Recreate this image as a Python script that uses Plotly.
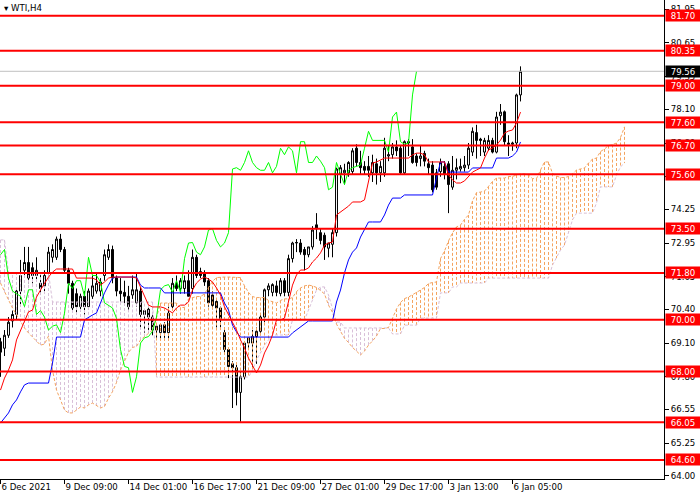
import plotly.graph_objects as go

# WTI H4 candles, one entry per bar (bar 0 = 6 Dec 2021 at the left edge)
bar_open = [69.15, 68.9, 69.4, 69.95, 70.2, 71.1, 71.9, 72.2, 72.0, 71.7,
            71.4, 71.3, 71.8, 72.4, 72.4, 73.1, 72.7, 71.9, 71.4, 71.0,
            70.5, 70.9, 70.5, 70.9, 71.1, 71.1, 71.7, 72.4, 72.7, 71.6,
            71.1, 71.05, 70.9, 70.95, 70.65, 71.1, 70.2, 70.4, 70.1, 69.6,
            69.5, 69.8, 69.5, 70.5, 71.4, 71.2, 71.2, 71.5, 71.2, 72.4,
            71.85, 71.8, 71.5, 70.95, 70.7, 70.45, 69.5, 68.85, 68.3, 68.15,
            67.2, 67.8, 69.1, 69.1, 69.35, 69.55, 70.1, 71.15, 71.05, 71.3,
            71.0, 71.5, 71.05, 72.35, 72.95, 72.95, 72.7, 72.5, 72.8, 73.65,
            73.35, 73.25, 72.75, 72.9, 73.35, 75.6, 75.65, 75.65, 75.7, 76.6,
            76.05, 75.9, 75.9, 75.65, 76.0, 75.65, 75.65, 76.3, 76.35, 76.65,
            76.6, 75.65, 76.8, 76.65, 76.3, 76.2, 76.4, 76.0, 75.95, 75.65,
            75.7, 75.9, 76.0, 75.1, 75.75, 75.8, 75.85, 75.95, 76.45, 77.2,
            76.95, 76.45, 76.6, 76.9, 76.45, 77.85, 78.0, 76.8, 76.75, 76.8,
            78.65]
bar_high = [69.3, 69.6, 70.1, 70.35, 71.2, 72.3, 72.8, 72.8, 72.2, 72.4,
            71.8, 71.9, 72.8, 72.9, 73.2, 73.3, 72.8, 72.0, 71.5, 71.2,
            71.0, 71.1, 71.2, 71.7, 71.8, 71.6, 72.7, 72.9, 72.85, 71.7,
            71.6, 71.5, 71.3, 71.7, 71.8, 71.25, 70.4, 70.5, 70.2, 69.75,
            69.8, 69.9, 70.5, 71.6, 71.7, 71.6, 71.7, 71.9, 72.7, 72.5,
            72.0, 71.9, 71.6, 71.1, 70.8, 70.5, 69.7, 68.9, 68.4, 68.3,
            68.0, 69.1, 69.3, 69.6, 69.7, 70.2, 71.2, 71.4, 71.4, 71.5,
            71.6, 71.6, 72.5, 73.0, 73.1, 73.1, 72.8, 72.8, 73.6, 74.1,
            73.5, 73.35, 72.95, 73.5, 75.85, 75.95, 76.0, 76.1, 76.6, 76.75,
            76.5, 76.1, 76.3, 76.35, 76.2, 76.1, 77.0, 76.7, 76.8, 76.9,
            76.7, 76.9, 76.95, 76.95, 76.4, 76.7, 76.5, 76.2, 76.1, 75.8,
            76.2, 76.1, 76.1, 76.3, 76.2, 76.2, 76.3, 76.8, 77.4, 77.5,
            77.0, 77.0, 77.1, 77.0, 78.0, 78.3, 78.05, 77.1, 76.85, 78.7,
            79.75]
bar_low = [67.8, 68.6, 69.3, 69.7, 70.0, 70.6, 71.7, 71.4, 71.4, 71.5,
           71.0, 71.1, 71.7, 72.2, 72.3, 72.6, 71.8, 71.0, 70.3, 70.2,
           70.3, 70.2, 70.4, 70.8, 71.0, 70.9, 71.5, 72.3, 71.4, 70.9,
           70.7, 70.6, 70.3, 70.8, 70.5, 69.7, 69.5, 69.5, 69.4, 69.3,
           69.2, 69.3, 69.2, 70.4, 71.1, 71.0, 71.0, 70.9, 71.0, 71.6,
           71.6, 71.3, 70.5, 70.4, 69.7, 69.6, 68.7, 67.75, 66.6, 66.7,
           66.07, 67.7, 68.9, 68.1, 68.3, 69.4, 69.9, 70.9, 70.9, 70.9,
           70.9, 70.9, 70.9, 72.2, 72.6, 72.5, 71.9, 72.4, 72.7, 73.1,
           72.9, 72.3, 72.4, 72.4, 73.2, 75.25, 75.2, 75.5, 75.6, 75.9,
           75.6, 75.6, 75.5, 75.3, 75.2, 75.3, 75.5, 76.1, 76.2, 76.3,
           75.6, 75.6, 76.3, 76.0, 75.9, 75.9, 75.9, 75.6, 74.9, 75.0,
           75.5, 75.4, 74.1, 75.0, 75.4, 75.7, 75.7, 75.8, 76.3, 76.2,
           76.3, 76.3, 76.5, 76.4, 76.4, 77.5, 76.7, 76.3, 76.5, 76.6,
           78.4]
bar_close = [68.75, 69.4, 69.9, 70.2, 71.1, 71.7, 72.2, 71.6, 71.7, 71.9,
             71.2, 71.7, 72.6, 72.7, 73.1, 72.7, 71.9, 71.4, 70.45, 70.5,
             70.9, 70.5, 71.1, 71.3, 71.4, 71.45, 72.5, 72.7, 71.6, 71.1,
             71.0, 70.9, 70.5, 71.15, 71.15, 70.2, 70.35, 70.1, 69.6, 69.75,
             69.8, 69.5, 70.25, 71.4, 71.2, 71.5, 71.5, 70.9, 72.4, 71.7,
             71.7, 71.45, 70.65, 70.55, 70.45, 70.05, 68.85, 68.2, 68.15, 67.2,
             67.8, 69.1, 69.3, 69.35, 69.55, 70.1, 71.15, 71.3, 71.35, 71.05,
             71.5, 71.05, 72.35, 72.95, 72.97, 72.6, 72.5, 72.8, 73.45, 73.5,
             73.05, 72.8, 72.95, 73.35, 75.8, 75.85, 75.75, 76.05, 76.5, 76.05,
             75.85, 75.75, 75.75, 76.05, 75.65, 75.9, 76.6, 76.35, 76.65, 76.5,
             75.65, 76.85, 76.85, 76.05, 76.05, 76.3, 76.1, 75.85, 75.0, 75.1,
             76.05, 75.6, 75.2, 75.75, 75.85, 75.9, 75.95, 76.6, 77.25, 76.9,
             76.9, 76.9, 76.9, 76.45, 77.8, 77.99, 76.85, 76.75, 76.8, 78.65,
             79.56]

# Ichimoku lines
tenkan = [67.29, 67.75, 68.06, 68.45, 69.22, 69.60, 69.99, 70.30, 70.37, 70.87,
          71.14, 71.41, 71.64, 71.83, 71.95, 71.95, 71.95, 71.95, 71.95, 71.60,
          71.60, 71.60, 71.60, 71.60, 71.53, 71.33, 71.45, 71.60, 71.64, 71.64,
          71.64, 71.64, 71.64, 71.64, 71.60, 71.26, 70.87, 70.56, 70.49, 70.49,
          70.49, 70.45, 70.37, 70.26, 70.45, 70.56, 70.56, 70.68, 71.14, 71.41,
          71.56, 71.64, 71.56, 71.45, 71.22, 70.95, 70.49, 70.18, 69.87, 69.60,
          69.22, 68.91, 68.52, 68.25, 67.95, 68.25, 68.72, 69.02, 69.41, 69.99,
          69.99, 70.06, 70.76, 71.33, 71.72, 71.91, 71.91, 71.99, 72.22, 72.37,
          72.57, 72.87, 72.95, 72.99, 74.03, 74.14, 74.26, 74.37, 74.53, 74.53,
          74.53, 74.61, 75.38, 76.03, 76.07, 76.15, 76.22, 76.22, 76.22, 76.22,
          76.22, 76.22, 76.22, 76.34, 76.41, 76.41, 76.34, 76.07, 76.07, 76.07,
          76.07, 76.07, 75.57, 75.38, 75.26, 75.26, 75.34, 75.53, 75.68, 75.76,
          75.84, 76.22, 76.53, 76.61, 76.72, 76.91, 77.18, 77.26, 77.30, 77.57,
          77.99]
kijun = [66.02, 66.21, 66.41, 66.72, 66.91, 67.22, 67.49, 67.56, 67.56, 67.56,
         67.56, 67.56, 67.56, 68.33, 69.33, 69.33, 69.33, 69.33, 69.33, 69.33,
         69.33, 69.99, 70.10, 70.18, 70.26, 70.64, 71.03, 71.33, 71.60, 71.64,
         71.64, 71.64, 71.64, 71.64, 71.64, 71.33, 71.22, 71.22, 71.22, 71.22,
         71.22, 71.03, 71.03, 71.03, 71.03, 71.03, 71.03, 71.03, 71.03, 71.03,
         71.03, 71.03, 71.03, 71.03, 71.03, 71.03, 70.64, 70.37, 69.79, 69.53,
         69.33, 69.33, 69.33, 69.33, 69.33, 69.33, 69.33, 69.33, 69.33, 69.33,
         69.33, 69.33, 69.33, 69.49, 69.60, 69.72, 69.83, 69.95, 69.95, 69.95,
         69.95, 69.95, 69.95, 69.95, 70.68, 71.14, 71.80, 72.30, 72.60, 72.76,
         73.18, 73.45, 73.76, 73.76, 73.76, 73.76, 74.03, 74.41, 74.68, 74.68,
         74.68, 74.80, 74.80, 74.80, 74.80, 74.80, 74.80, 74.80, 74.80, 75.45,
         76.07, 76.07, 75.68, 75.68, 75.68, 75.68, 75.68, 75.68, 75.84, 75.84,
         75.84, 75.84, 75.84, 75.84, 76.22, 76.22, 76.22, 76.22, 76.30, 76.45,
         76.84]
# cloud edges, already shifted 26 bars ahead (157 bars)
span_a = [71.41, 71.06, 70.76, 70.45, 70.18, 69.91, 69.68, 69.49, 69.33, 69.14,
          69.02, 69.06, 69.37, 68.06, 67.29, 66.91, 66.52, 66.41, 66.41, 66.52,
          66.64, 66.60, 66.72, 66.79, 66.68, 66.60, 66.66, 66.98, 67.23, 67.58,
          68.06, 68.41, 68.74, 68.93, 68.97, 69.22, 69.35, 69.49, 69.60, 70.08,
          70.64, 70.64, 70.64, 70.64, 70.64, 70.47, 70.47, 70.80, 70.85, 70.89,
          70.89, 70.99, 71.24, 71.47, 71.62, 71.64, 71.64, 71.64, 71.64, 71.64,
          71.62, 71.30, 71.05, 70.89, 70.85, 70.85, 70.85, 70.74, 70.70, 70.64,
          70.74, 70.80, 70.80, 70.85, 71.08, 71.22, 71.30, 71.33, 71.30, 71.24,
          71.12, 70.99, 70.56, 70.28, 69.83, 69.56, 69.28, 69.12, 68.93, 68.79,
          68.64, 68.79, 69.02, 69.18, 69.37, 69.66, 69.66, 69.70, 70.05, 70.41,
          70.66, 70.81, 70.87, 70.95, 71.06, 71.14, 71.24, 71.39, 71.43, 71.45,
          72.35, 72.64, 73.03, 73.34, 73.57, 73.64, 73.86, 74.03, 74.57, 74.89,
          74.91, 74.95, 75.13, 75.32, 75.45, 75.45, 75.45, 75.51, 75.51, 75.57,
          75.61, 75.61, 75.57, 75.43, 75.43, 75.76, 76.07, 76.07, 75.63, 75.53,
          75.47, 75.47, 75.51, 75.61, 75.76, 75.80, 75.84, 76.03, 76.18, 76.22,
          76.47, 76.57, 76.70, 76.74, 76.80, 77.01, 77.42]
span_b = [73.07, 73.07, 71.80, 71.80, 71.80, 71.80, 71.80, 71.80, 71.80, 71.80,
          71.80, 71.80, 71.80, 70.68, 70.68, 70.68, 70.68, 70.68, 70.68, 70.68,
          70.68, 70.68, 70.68, 70.68, 70.68, 70.68, 70.68, 70.68, 70.68, 70.68,
          70.68, 70.68, 70.68, 70.68, 70.68, 70.68, 70.68, 70.68, 70.68, 67.79,
          67.79, 67.79, 67.79, 67.79, 67.79, 67.79, 67.79, 67.79, 67.79, 67.79,
          67.79, 67.79, 67.79, 67.79, 67.79, 67.79, 67.79, 67.79, 67.79, 67.79,
          67.79, 67.79, 67.79, 68.06, 68.45, 68.72, 69.02, 69.22, 69.41, 69.41,
          69.41, 69.41, 69.41, 69.99, 69.99, 69.99, 69.99, 70.37, 70.76, 71.14,
          71.26, 71.26, 70.95, 70.45, 69.91, 69.91, 69.68, 69.68, 69.68, 69.68,
          69.68, 69.68, 69.68, 69.68, 69.68, 69.68, 69.68, 69.68, 69.45, 69.45,
          69.45, 69.79, 69.79, 69.79, 69.79, 70.06, 70.06, 70.06, 70.06, 70.06,
          71.03, 71.03, 71.03, 71.26, 71.26, 71.41, 71.41, 71.41, 71.41, 71.41,
          71.41, 71.41, 71.60, 71.60, 71.60, 71.60, 71.60, 71.60, 71.60, 71.60,
          71.60, 71.60, 71.60, 71.60, 71.60, 71.60, 71.60, 71.60, 72.10, 72.37,
          72.68, 72.87, 73.37, 73.84, 74.10, 74.10, 74.10, 74.10, 74.10, 74.49,
          75.11, 75.11, 75.11, 75.11, 75.57, 75.88, 76.03]

levels = [81.70, 80.35, 79.00, 77.60, 76.70, 75.60, 73.50, 71.80, 70.00, 68.00, 66.05, 64.60]
last_price = 79.56
price_ticks = [64.00, 65.25, 66.55, 67.80, 69.10, 70.40, 71.65, 72.95, 74.25,
               75.50, 76.80, 78.10, 79.35, 80.65, 81.95]
time_tick_bars = [0, 16, 32, 48, 64, 80, 96, 112, 128]
time_tick_text = ["6 Dec 2021", "9 Dec 09:00", "14 Dec 01:00", "16 Dec 17:00",
                  "21 Dec 09:00", "27 Dec 01:00", "29 Dec 17:00", "3 Jan 13:00", "6 Jan 05:00"]

SHIFT = 26
FONT = "DejaVu Sans"

bars = list(range(len(bar_close)))
cloud_bars = list(range(len(span_a)))


def hatch(bullish):
    # vertical dotted strokes between the two spans, one per bar
    xs, ys = [], []
    for i, (a, b) in enumerate(zip(span_a, span_b)):
        if (a >= b) == bullish:
            xs += [i, i, None]
            ys += [a, b, None]
    return xs, ys


fig = go.Figure()

fig.add_trace(go.Candlestick(
    x=bars, open=bar_open, high=bar_high, low=bar_low, close=bar_close,
    increasing=dict(line=dict(color="black", width=1), fillcolor="white"),
    decreasing=dict(line=dict(color="black", width=1), fillcolor="black"),
    whiskerwidth=0, hoverinfo="skip"))

for bullish, col in [(True, "#F4A460"), (False, "#D8BFD8")]:
    hx, hy = hatch(bullish)
    fig.add_trace(go.Scatter(x=hx, y=hy, mode="lines", connectgaps=False,
                             line=dict(color=col, width=1, dash="3px,2px"), hoverinfo="skip"))

fig.add_trace(go.Scatter(x=cloud_bars, y=span_b, mode="lines",
                         line=dict(color="#D8BFD8", width=1, dash="3px,2px"), hoverinfo="skip"))
fig.add_trace(go.Scatter(x=cloud_bars, y=span_a, mode="lines",
                         line=dict(color="#F4A460", width=1, dash="3px,2px"), hoverinfo="skip"))

# chikou = closes drawn 26 bars back
fig.add_trace(go.Scatter(x=bars[:len(bars) - SHIFT], y=bar_close[SHIFT:], mode="lines",
                         line=dict(color="#00FF00", width=1), hoverinfo="skip"))
fig.add_trace(go.Scatter(x=bars, y=kijun, mode="lines", line=dict(color="#0000FF", width=1), hoverinfo="skip"))
fig.add_trace(go.Scatter(x=bars, y=tenkan, mode="lines", line=dict(color="#FF0000", width=1), hoverinfo="skip"))

shapes = [dict(type="line", xref="paper", x0=0, x1=1, yref="y", y0=last_price, y1=last_price,
               line=dict(color="#C0C0C0", width=1), layer="above")]
for lv in levels:
    shapes.append(dict(type="line", xref="paper", x0=0, x1=1, yref="y", y0=lv, y1=lv,
                       line=dict(color="#FF0000", width=2), layer="above"))

annotations = []
for lv in levels:
    annotations.append(dict(x=1, xref="paper", xanchor="left", xshift=1, y=lv, yref="y",
                            text=f"{lv:.2f}", showarrow=False, bgcolor="#FF0000",
                            font=dict(family=FONT, size=8.6, color="white"),
                            width=34, height=11, borderpad=0))
annotations.append(dict(x=1, xref="paper", xanchor="left", xshift=1, y=last_price, yref="y",
                        text=f"{last_price:.2f}", showarrow=False, bgcolor="black",
                        font=dict(family=FONT, size=8.6, color="white"),
                        width=34, height=11, borderpad=0))
annotations.append(dict(x=0, xref="paper", xanchor="left", xshift=2, y=1, yref="paper",
                        yanchor="top", yshift=-1, text="▾ WTI,H4", showarrow=False,
                        font=dict(family=FONT, size=8.6, color="black")))

fig.update_layout(
    width=700, height=500,
    margin=dict(l=0, r=36, t=0, b=21),
    plot_bgcolor="white", paper_bgcolor="white",
    showlegend=False,
    shapes=shapes, annotations=annotations,
    font=dict(family=FONT, size=8.6, color="black"),
    # 4px per bar; the half-bar-pixel offset keeps 1px strokes sharp
    xaxis=dict(range=[-0.125, 165.875], tickvals=time_tick_bars, ticktext=time_tick_text,
               tickangle=0, ticks="outside", ticklen=4, tickcolor="black",
               ticklabelposition="outside right",
               showline=True, linecolor="black", linewidth=1, showgrid=False, zeroline=False,
               rangeslider=dict(visible=False), fixedrange=True),
    yaxis=dict(side="right", range=[63.867, 82.304], tickvals=price_ticks,
               ticktext=[f"{v:.2f}" for v in price_ticks],
               ticks="outside", ticklen=4, tickcolor="black",
               showline=True, linecolor="black", linewidth=1, showgrid=False, zeroline=False,
               fixedrange=True),
)

# the page's default body margin would push the chart 8px off the corner
fig.write_html("out.html", config={"displayModeBar": False},
               post_script="document.body.style.margin='0';")
